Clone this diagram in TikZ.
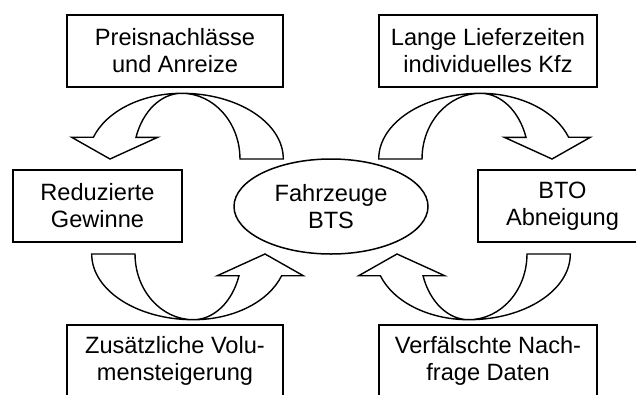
\documentclass[tikz,border=0pt]{standalone}
\usepackage{fontspec}
\setmainfont{Liberation Sans}
\usetikzlibrary{shapes.geometric}
\newcommand\crvarrow{%
  \draw[bigarrow] (283.3,159) arc[start angle=0, end angle=-90, x radius=101.6, y radius=65.7]
    arc[start angle=270, end angle=199.3, x radius=93.6, y radius=65.7]
    -- (71.7,137.3) -- (110,159) -- (157.7,137.3) -- (136,137.3)
    arc[start angle=199.3, end angle=270, x radius=48.4, y radius=65.7]
    arc[start angle=-90, end angle=0, x radius=58.3, y radius=65.7]
    -- cycle;}
\begin{document}
\begin{tikzpicture}[x=1pt,y=-1pt,
  txt/.style={font=\fontsize{23.6}{27}\selectfont, align=center, inner sep=0pt},
  box/.style={txt, draw, line width=1.5pt, minimum width=216pt, minimum height=72pt},
  sbox/.style={box, minimum width=169pt},
  oval/.style={txt, draw, ellipse, line width=1.5pt, minimum width=194pt, minimum height=95pt},
  bigarrow/.style={draw, line width=1.4pt, fill=white, line join=miter}]
\useasboundingbox[fill=white] (0,0) rectangle (636,394);
% curved block arrows
\crvarrow
\begin{scope}[shift={(662,0)}, xscale=-1]\crvarrow\end{scope}
\begin{scope}[shift={(375,413)}, scale=-1]\crvarrow\end{scope}
\begin{scope}[shift={(287,413)}, yscale=-1]\crvarrow\end{scope}
% nodes
\node[box] (pn) at (175,51) {Preisnachlässe\\und Anreize};
\node[box, minimum width=218pt] (ll) at (488,51) {Lange Lieferzeiten\\individuelles Kfz};
\node[sbox] (rg) at (97.5,206) {Reduzierte\\Gewinne};
\node[sbox] (bto) at (562.5,206) {BTO\\Abneigung};
\node[oval] (fz) at (331,206.5) {Fahrzeuge\\BTS};
\node[box] (zv) at (175,361) {Zusätzliche Volu-\\mensteigerung};
\node[box, minimum width=218pt] (vn) at (488,361) {Verfälschte Nach-\\frage Daten};
\end{tikzpicture}
\end{document}
